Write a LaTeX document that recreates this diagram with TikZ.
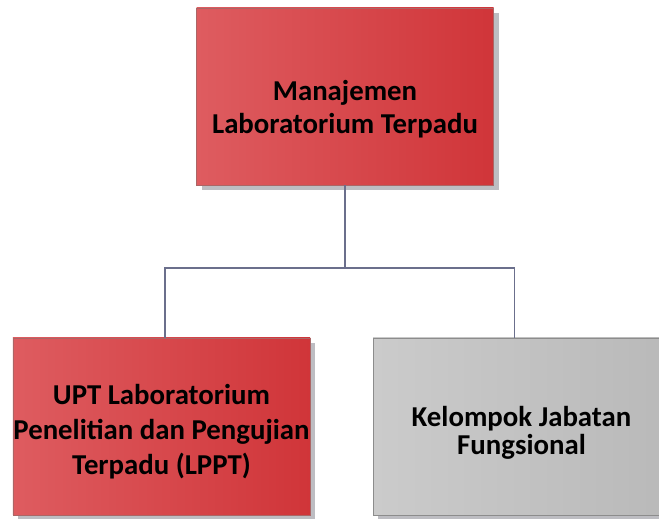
\documentclass[tikz,border=0pt]{standalone}
\usepackage{fontspec}
\setmainfont{Carlito}
\usetikzlibrary{shadows}
\definecolor{redL}{HTML}{DE5C60}
\definecolor{redR}{HTML}{D03539}
\definecolor{greyL}{HTML}{CBCBCB}
\definecolor{greyR}{HTML}{B9B9B9}
\definecolor{linkc}{HTML}{6B6F8C}
\definecolor{shadowc}{HTML}{BDBDC2}
\tikzset{
  x=1bp, y=1bp,
  unitbox/.style={rectangle, draw=#1, line width=0.8bp,
    minimum width=297bp, minimum height=177bp, inner sep=0pt,
    drop shadow={shadow xshift=5bp, shadow yshift=-5bp, fill=shadowc, opacity=1}},
  redbox/.style={unitbox=red!45!black!60, left color=redL, right color=redR},
  greybox/.style={unitbox=black!45, left color=greyL, right color=greyR},
  label/.style={align=center, text=black,
    font=\bfseries\fontsize{28.8bp}{#1}\selectfont},
  link/.style={draw=linkc, line width=1.2bp}
}
\begin{document}
\begin{tikzpicture}
  \useasboundingbox (0,0) rectangle (659,519);
  \clip (0,0) rectangle (659,519);

  % top management unit
  \node[redbox] (mgmt) at (345,422.5) {};
  \node[label=33bp] (mgmtText) at (345,410)
    {Manajemen\\Laboratorium Terpadu};

  % subordinate units
  \node[redbox] (lppt) at (161.5,92.5) {};
  \node[label=35bp] (lpptText) at (161.5,87)
    {UPT Laboratorium\\Penelitian dan Pengujian\\Terpadu (LPPT)};

  \node[greybox] (jf) at (521.5,92.5) {};
  \node[label=28bp] (jfText) at (521.5,86)
    {Kelompok Jabatan\\Fungsional};

  % organisational connectors
  \coordinate (bus) at (345,251);
  \draw[link] (mgmt.south) -- (bus) -| ([xshift=3.5bp]lppt.north);
  \draw[link] (bus) -| ([xshift=-7bp]jf.north);
\end{tikzpicture}
\end{document}
